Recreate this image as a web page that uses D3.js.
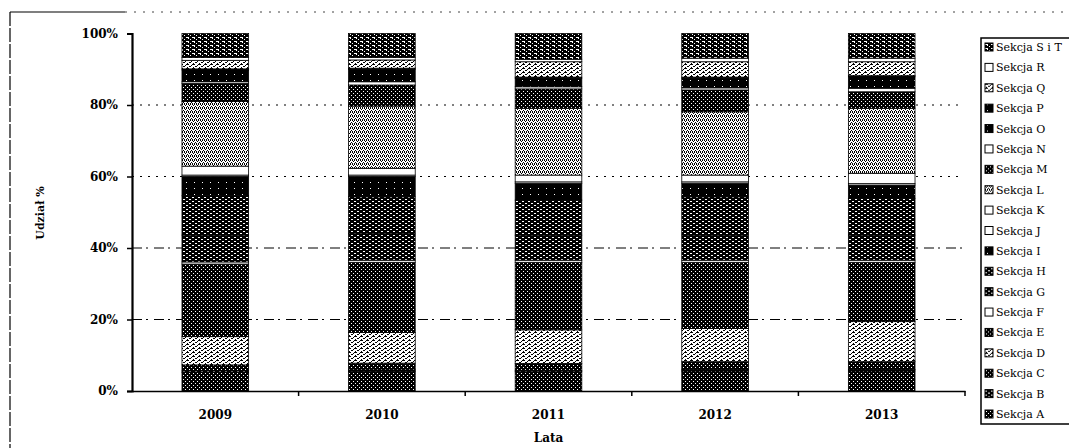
<!DOCTYPE html>
<html>
<head>
<meta charset="utf-8">
<script src="https://cdn.jsdelivr.net/npm/d3@7"></script>
<style>
  body { margin: 0; background: #fff; }
  svg { display: block; }
  text { font-family: 'DejaVu Serif', 'Liberation Serif', serif; fill: #000; }
</style>
</head>
<body>
<svg id="svg" width="1069" height="448"></svg>
<script>
// data
const years = ['2009', '2010', '2011', '2012', '2013'];
const sections = ['A', 'B', 'C', 'D', 'E', 'F', 'G', 'H', 'I', 'J', 'K', 'L', 'M', 'N', 'O', 'P', 'Q', 'R', 'S i T'];
const share2009 = [5.2, 0.4, 1.7, 7.9, 20.3, 0.6, 7.5, 11.0, 5.4, 0.4, 2.5, 18.1, 5.0, 0.5, 3.3, 0.3, 2.4, 0.8, 6.7];
const share2010 = [5.5, 0.4, 1.9, 8.6, 19.6, 0.6, 7.4, 10.3, 5.7, 0.4, 1.9, 17.4, 5.9, 0.9, 3.5, 0.3, 2.3, 0.7, 6.7];
const share2011 = [5.4, 0.4, 1.9, 9.4, 18.9, 0.6, 7.0, 9.8, 4.7, 0.4, 1.9, 18.7, 5.4, 0.6, 2.4, 0.3, 4.3, 0.7, 7.2];
const share2012 = [5.6, 0.4, 2.2, 9.3, 18.5, 0.6, 7.0, 10.7, 3.8, 0.4, 1.9, 17.7, 6.1, 0.6, 2.7, 0.3, 4.3, 1.0, 6.9];
const share2013 = [5.6, 0.4, 2.2, 11.2, 16.6, 0.6, 7.0, 10.3, 3.7, 0.4, 2.9, 18.2, 4.6, 1.0, 3.2, 0.3, 3.9, 1.0, 6.9];
const yTicks = [0, 0.2, 0.4, 0.6, 0.8, 1];

const shares = [share2009, share2010, share2011, share2012, share2013];
const table = years.map((y, i) => {
	const row = { year: y };
	sections.forEach((s, j) => (row[s] = shares[i][j] / 100));
	return row;
});

// fills (black & white patterns like the printed original)
const fillOf = {
	A: 'dotsDark', B: 'dashDark', C: 'dotsDark', D: 'lightDash', E: 'dotsDark',
	F: 'white', G: 'dashDark', H: 'dashDark', I: 'nearBlack', J: 'white',
	K: 'white', L: 'lightNoise', M: 'dotsDark', N: 'white', O: 'nearBlack',
	P: 'nearBlack', Q: 'lightDash', R: 'white', 'S i T': 'dashDark2'
};

const margin = { top: 33.5, left: 132, right: 965, bottom: 391 };

const svg = d3.select('#svg');
const defs = svg.append('defs');

function makePattern(id, w, h, bg, fg, px) {
	const p = defs.append('pattern')
		.attr('id', id)
		.attr('patternUnits', 'userSpaceOnUse')
		.attr('width', w)
		.attr('height', h);
	p.append('rect').attr('width', w).attr('height', h).attr('fill', bg);
	px.forEach((r) => {
		p.append('rect')
			.attr('x', r[0]).attr('y', r[1])
			.attr('width', r[2]).attr('height', r[3])
			.attr('fill', fg);
	});
}

makePattern('dotsDark', 4, 4, '#000', '#fff', [[1, 1, 1, 1], [3, 3, 1, 1]]);
makePattern('dashDark', 6, 4, '#000', '#fff', [[0, 1, 2, 1], [3, 3, 2, 1]]);
makePattern('dashDark2', 6, 4, '#000', '#fff', [[0, 1, 3, 1], [4, 3, 1, 1], [2, 2, 1, 1]]);
makePattern('nearBlack', 8, 6, '#000', '#fff', [[2, 2, 1, 1]]);
makePattern('lightNoise', 4, 4, '#fff', '#000', [[0, 0, 1, 1], [2, 0, 1, 1], [1, 1, 1, 1], [3, 2, 1, 1], [0, 3, 1, 1], [2, 3, 1, 1]]);
makePattern('lightDash', 6, 4, '#fff', '#000', [[0, 0, 3, 1], [3, 2, 2, 1], [1, 3, 1, 1], [5, 1, 1, 1]]);

const fill = (s) => (fillOf[s] === 'white' ? '#fff' : `url(#${fillOf[s]})`);

// frame of the chart area
svg.append('line')
	.attr('x1', 10).attr('x2', 10).attr('y1', 12).attr('y2', 448)
	.attr('stroke', '#000').attr('stroke-width', 1.2)
	.attr('stroke-dasharray', '14,2');
svg.append('line')
	.attr('x1', 10).attr('x2', 125).attr('y1', 12).attr('y2', 12)
	.attr('stroke', '#000').attr('stroke-width', 1.2);
svg.append('line')
	.attr('x1', 125).attr('x2', 1069).attr('y1', 12).attr('y2', 12)
	.attr('stroke', '#444').attr('stroke-width', 1)
	.attr('stroke-dasharray', '2,7');

// scales
const xscale = d3.scaleBand()
	.domain(years)
	.range([margin.left, margin.right])
	.paddingInner(0.6)
	.paddingOuter(0.3);

const yscale = d3.scaleLinear()
	.domain([0, 1])
	.range([margin.bottom, margin.top]);

// gridlines
svg.append('g')
	.selectAll('line')
	.data(yTicks.slice(1, -1))
	.enter()
	.append('line')
	.attr('x1', margin.left).attr('x2', margin.right - 3)
	.attr('y1', (d) => yscale(d)).attr('y2', (d) => yscale(d))
	.attr('stroke', '#000').attr('stroke-width', 1)
	.attr('stroke-dasharray', (d, i) => (i < 2 ? '10,4,2,6' : '2,6'));

// bars
const stacked = d3.stack().keys(sections)(table);

svg.append('g')
	.selectAll('g')
	.data(stacked)
	.enter()
	.append('g')
	.attr('fill', (d) => fill(d.key))
	.selectAll('rect')
	.data((d) => d)
	.enter()
	.append('rect')
	.attr('x', (d) => xscale(d.data.year))
	.attr('y', (d) => yscale(d[1]))
	.attr('width', xscale.bandwidth())
	.attr('height', (d) => yscale(d[0]) - yscale(d[1]))
	.attr('stroke', '#000')
	.attr('stroke-width', 0.8);

// axes
const leftAxis = d3.axisLeft(yscale)
	.tickValues(yTicks)
	.tickFormat(d3.format('.0%'))
	.tickSize(5)
	.tickPadding(9);

const yAxisG = svg.append('g')
	.attr('transform', `translate(${margin.left}, 0)`)
	.call(leftAxis);
yAxisG.select('.domain').attr('stroke-width', 2.2);
yAxisG.selectAll('.tick line').attr('stroke-width', 1.5);
yAxisG.selectAll('text')
	.attr('font-family', 'DejaVu Serif')
	.attr('font-weight', 'bold')
	.attr('font-size', 12);

const bottomAxis = d3.axisBottom(xscale).tickSize(0).tickPadding(19);
const xAxisG = svg.append('g')
	.attr('transform', `translate(0, ${margin.bottom})`)
	.call(bottomAxis);
xAxisG.select('.domain').attr('stroke-width', 1.5);
xAxisG.selectAll('text')
	.attr('font-family', 'DejaVu Serif')
	.attr('font-weight', 'bold')
	.attr('font-size', 12);

// tick marks between the categories
const step = xscale.step();
xAxisG.selectAll('.sep')
	.data(years)
	.enter()
	.append('line')
	.attr('class', 'sep')
	.attr('x1', (d) => xscale(d) + xscale.bandwidth() + step * 0.3)
	.attr('x2', (d) => xscale(d) + xscale.bandwidth() + step * 0.3)
	.attr('y1', 0).attr('y2', 5)
	.attr('stroke', '#000').attr('stroke-width', 1.5);

// axis titles
svg.append('text')
	.attr('x', (margin.left + margin.right) / 2)
	.attr('y', 442)
	.attr('text-anchor', 'middle')
	.attr('font-weight', 'bold')
	.attr('font-size', 12)
	.text('Lata');

svg.append('text')
	.attr('transform', 'translate(44, 213) rotate(-90)')
	.attr('text-anchor', 'middle')
	.attr('font-weight', 'bold')
	.attr('font-size', 11)
	.text('Udział %');

// legend
const legend = svg.append('g');
legend.append('path')
	.attr('d', 'M1069,38 H981 V424 H1069')
	.attr('fill', 'none')
	.attr('stroke', '#000')
	.attr('stroke-width', 1.5);

const legendItems = sections.slice().reverse();
const ly = d3.scalePoint().domain(legendItems).range([47, 414]);

const item = legend.selectAll('g.item')
	.data(legendItems)
	.enter()
	.append('g')
	.attr('class', 'item')
	.attr('transform', (d) => `translate(985, ${ly(d)})`);

item.append('rect')
	.attr('x', 0).attr('y', -4)
	.attr('width', 8).attr('height', 8)
	.attr('fill', (d) => fill(d))
	.attr('stroke', '#000')
	.attr('stroke-width', 1);

item.append('text')
	.attr('x', 11)
	.attr('y', 4)
	.attr('font-size', 11)
	.text((d) => 'Sekcja ' + d);
</script>
</body>
</html>
